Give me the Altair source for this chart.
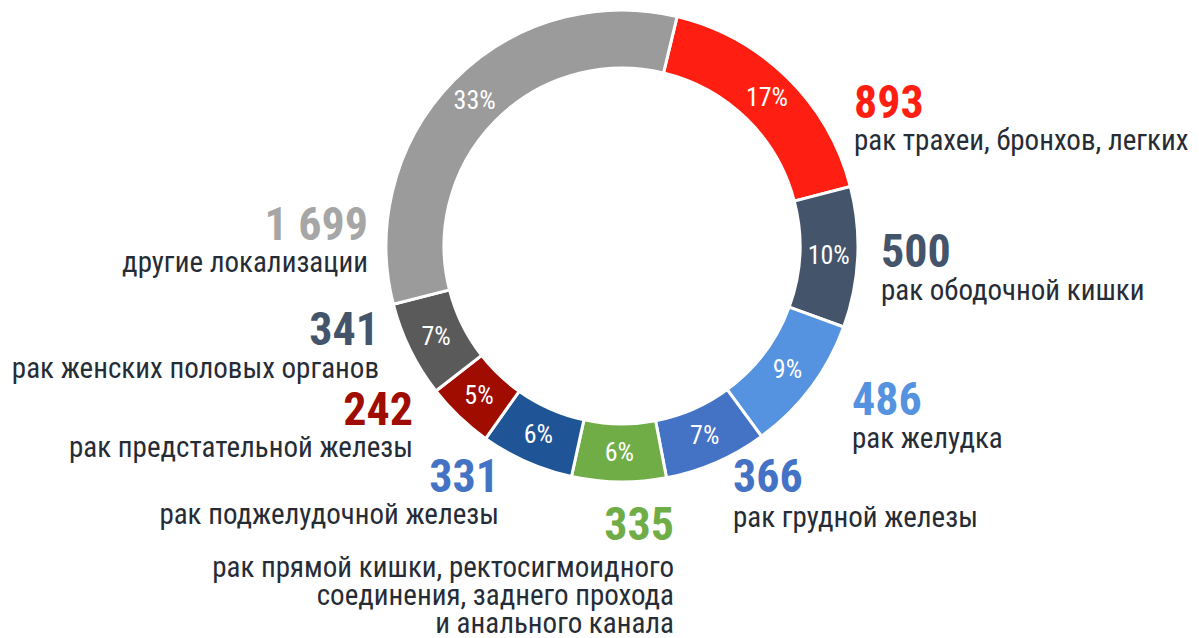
import math
import altair as alt
import pandas as pd

# ---- data ----
categories = [
    "рак трахеи, бронхов, легких",
    "рак ободочной кишки",
    "рак желудка",
    "рак грудной железы",
    "рак прямой кишки, ректосигмоидного соединения, заднего прохода и анального канала",
    "рак поджелудочной железы",
    "рак предстательной железы",
    "рак женских половых органов",
    "другие локализации",
]
values = [893, 500, 486, 366, 335, 331, 242, 341, 1699]
slice_colors = ["#FF1F12", "#44546A", "#5593E0", "#4472C4", "#70AD47",
                "#1F5597", "#A00C00", "#5A5A5A", "#9B9B9B"]
number_colors = ["#FF1F12", "#44546A", "#5593E0", "#4472C4", "#70AD47",
                 "#4472C4", "#A00C00", "#44546A", "#A6A6A6"]
desc_lines = [
    ["рак трахеи, бронхов, легких"],
    ["рак ободочной кишки"],
    ["рак желудка"],
    ["рак грудной железы"],
    ["рак прямой кишки, ректосигмоидного", "соединения, заднего прохода", "и анального канала"],
    ["рак поджелудочной железы"],
    ["рак предстательной железы"],
    ["рак женских половых органов"],
    ["другие локализации"],
]

# ---- layout (view pixel coordinates) ----
M = 8
CX, CY = 622 - M, 246 - M
R_OUT, R_IN = 236, 178
START = math.radians(13.5)
# anchor x, number baseline y, description baseline y, align
label_layout = [
    (854, 118, 150, "left"),
    (881, 267, 300, "left"),
    (852, 415, 448, "left"),
    (733, 492, 527, "left"),
    (674, 540, 577, "right"),
    (499, 492, 524, "right"),
    (413, 425, 457, "right"),
    (379, 345, 378, "right"),
    (368, 240, 272, "right"),
]
LINE_H = 28

FONT = "Roboto Condensed, Liberation Sans Narrow, DejaVu Sans Condensed, sans-serif"
TEXT_COLOR = "#262C36"

df = pd.DataFrame({
    "cat": categories,
    "value": values,
    "idx": list(range(len(values))),
})

num_rows, desc_rows = [], []
for i, v in enumerate(values):
    x, ny, dy, al = label_layout[i]
    num_rows.append({"px": x - M, "py": ny - M, "align": al,
                     "txt": f"{v:,}".replace(",", " "), "col": number_colors[i]})
    for j, line in enumerate(desc_lines[i]):
        desc_rows.append({"px": x - M, "py": dy - M + j * LINE_H, "align": al, "txt": line})
num_df = pd.DataFrame(num_rows)
desc_df = pd.DataFrame(desc_rows)

theta_scale = alt.Scale(range=[START, START + 2 * math.pi])

base = alt.Chart(df).encode(
    theta=alt.Theta("value:Q", stack=True, scale=theta_scale),
    order=alt.Order("idx:Q"),
    x=alt.value(CX),
    y=alt.value(CY),
)

arcs = base.mark_arc(innerRadius=R_IN, outerRadius=R_OUT, stroke="white", strokeWidth=3).encode(
    color=alt.Color("cat:N", scale=alt.Scale(domain=categories, range=slice_colors), legend=None),
)

pct = base.transform_joinaggregate(total="sum(value)").transform_calculate(
    pct="datum.value / datum.total"
).mark_text(radius=(R_OUT + R_IN) / 2, font=FONT, fontSize=26, color="white",
            align="center", baseline="middle").encode(
    text=alt.Text("pct:Q", format=".0%"),
)

layers = [arcs, pct]
for al in ["left", "right"]:
    n = alt.Chart(num_df[num_df["align"] == al]).mark_text(
        font=FONT, fontSize=46, fontWeight="bold", align=al, baseline="alphabetic"
    ).encode(
        x=alt.X("px:Q", scale=None, axis=None),
        y=alt.Y("py:Q", scale=None, axis=None),
        text="txt:N",
        color=alt.Color("col:N", scale=None, legend=None),
    )
    d = alt.Chart(desc_df[desc_df["align"] == al]).mark_text(
        font=FONT, fontSize=29, color=TEXT_COLOR, align=al, baseline="alphabetic"
    ).encode(
        x=alt.X("px:Q", scale=None, axis=None),
        y=alt.Y("py:Q", scale=None, axis=None),
        text="txt:N",
    )
    layers += [n, d]

chart = alt.layer(*layers).resolve_scale(color="independent").properties(
    width=1183, height=630, padding=0,
    autosize=alt.AutoSizeParams(type="none"),
).configure_view(stroke=None)

chart.save("out.html", embed_options={"renderer": "svg", "actions": False})
